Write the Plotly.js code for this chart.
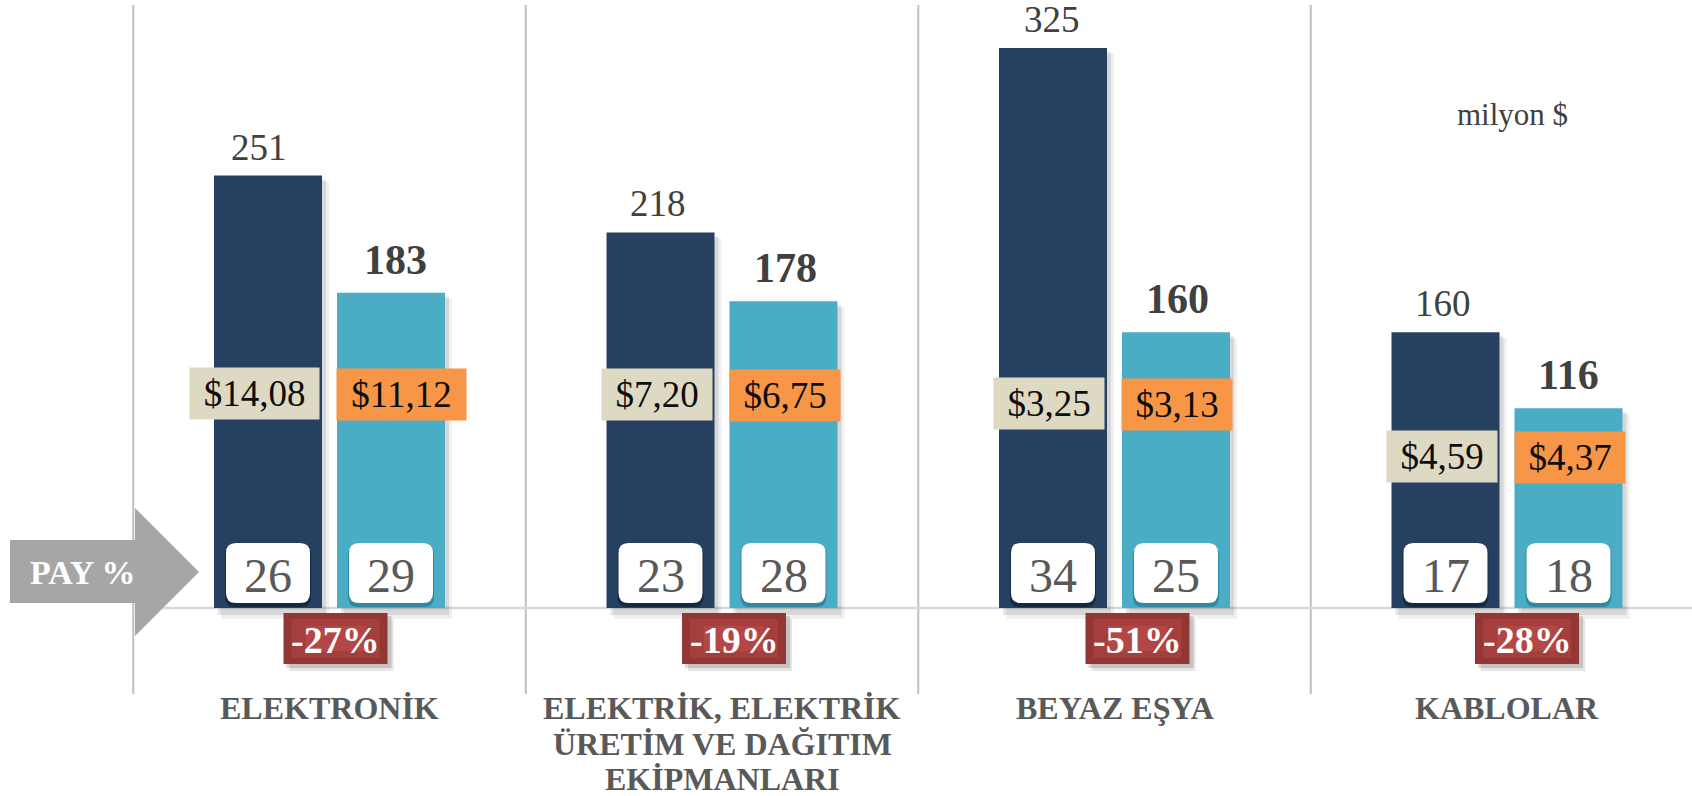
<!DOCTYPE html>
<html>
<head>
<meta charset="utf-8">
<script src="https://cdn.plot.ly/plotly-3.0.1.min.js"></script>
<style>
  html, body { margin: 0; padding: 0; background: #ffffff; }
  #chart { width: 1692px; height: 796px; }
</style>
</head>
<body>
<div id="chart"></div>
<script>
// ---------------- DATA ----------------
const categories = ['ELEKTRONİK', 'ELEKTRİK, ELEKTRİK ÜRETİM VE DAĞITIM EKİPMANLARI', 'BEYAZ EŞYA', 'KABLOLAR'];
const categoryLines = [
  ['ELEKTRONİK'],
  ['ELEKTRİK, ELEKTRİK', 'ÜRETİM VE DAĞITIM', 'EKİPMANLARI'],
  ['BEYAZ EŞYA'],
  ['KABLOLAR']
];
const valuesPrev = [251, 218, 325, 160];   // dark bars (milyon $)
const valuesCurr = [183, 178, 160, 116];   // light bars (milyon $)
const unitPricePrev = ['$14,08', '$7,20', '$3,25', '$4,59'];
const unitPriceCurr = ['$11,12', '$6,75', '$3,13', '$4,37'];
const sharePrev = [26, 23, 34, 17];        // PAY %
const shareCurr = [29, 28, 25, 18];
const changeLabels = ['-27%', '-19%', '-51%', '-28%'];
const unitLabel = 'milyon $';
const payLabel = 'PAY %';

// ---------------- GEOMETRY / STYLE ----------------
const W = 1692, H = 796;
const baselinePx = 608;
const pxPerUnit = 1.723;
const yMax = baselinePx / pxPerUnit;
const yMin = -(H - baselinePx) / pxPerUnit;
const groupCenter0 = 329.5, groupStep = 392.5;
const xMin = -groupCenter0 / groupStep;
const xMax = (W - groupCenter0) / groupStep;
const barPx = 108;
const darkOffPx = -115.5, lightOffPx = 7.5;
const barW = barPx / groupStep;

const DARK = '#264061', LIGHT = '#4BACC6';
const BEIGE = '#DDD9C3', ORANGE = '#F79646';
const SERIF = '"Liberation Serif", "Times New Roman", serif';

const PX = px => px / W;            // pixel -> paper x
const PY = py => 1 - py / H;        // pixel -> paper y
const gc = i => groupCenter0 + i * groupStep;
const barLeftPx = (i, k) => gc(i) + (k === 0 ? darkOffPx : lightOffPx);
const barCenterPx = (i, k) => barLeftPx(i, k) + barPx / 2;

// layout placement lists (pixels)
const priceBoxCenterY = [393, 394, 403, 456.5];
const changeBoxShift = [6, 12, 23, 20];
const prevLabelShift = [-9, -3, -1, -3];
const currLabelShift = [4, 2, 1, 0];

// ---------------- TRACES ----------------
function shadowTrace(vals, offPx, dx, below, drop, alpha) {
  return {
    type: 'bar', x: categories, y: vals.map(v => v + (below - drop) / pxPerUnit),
    base: -below / pxPerUnit, width: barW, offset: (offPx + dx) / groupStep,
    marker: { color: 'rgba(0,0,0,' + alpha + ')', line: { width: 0 } },
    hoverinfo: 'skip', showlegend: false
  };
}
const traces = [
  shadowTrace(valuesPrev, darkOffPx, 7, 11, 6, 0.06),
  shadowTrace(valuesCurr, lightOffPx, 7, 11, 6, 0.06),
  shadowTrace(valuesPrev, darkOffPx, 4, 7, 4, 0.10),
  shadowTrace(valuesCurr, lightOffPx, 4, 7, 4, 0.10),
  {
    type: 'bar', name: 'prev', x: categories, y: valuesPrev, width: barW,
    offset: darkOffPx / groupStep, marker: { color: DARK, line: { width: 0 } },
    hoverinfo: 'skip', showlegend: false
  },
  {
    type: 'bar', name: 'curr', x: categories, y: valuesCurr, width: barW,
    offset: lightOffPx / groupStep, marker: { color: LIGHT, line: { width: 0 } },
    hoverinfo: 'skip', showlegend: false
  }
];

// ---------------- SHAPES ----------------
function rrect(x0, y0, x1, y1, r) {
  const f = (x, y) => PX(x).toFixed(6) + ',' + PY(y).toFixed(6);
  return 'M' + f(x0 + r, y0) + ' L' + f(x1 - r, y0) + ' Q' + f(x1, y0) + ' ' + f(x1, y0 + r) +
    ' L' + f(x1, y1 - r) + ' Q' + f(x1, y1) + ' ' + f(x1 - r, y1) +
    ' L' + f(x0 + r, y1) + ' Q' + f(x0, y1) + ' ' + f(x0, y1 - r) +
    ' L' + f(x0, y0 + r) + ' Q' + f(x0, y0) + ' ' + f(x0 + r, y0) + ' Z';
}
function prect(x0, y0, x1, y1, color, layer, opacity) {
  return { type: 'rect', xref: 'paper', yref: 'paper', x0: PX(x0), x1: PX(x1), y0: PY(y1), y1: PY(y0),
    fillcolor: color, line: { width: 0 }, layer: layer || 'above', opacity: opacity == null ? 1 : opacity };
}
const shapes = [];
// vertical separators
categories.forEach((c, i) => {
  const x = gc(i) - groupStep / 2;
  shapes.push({ type: 'line', xref: 'paper', yref: 'paper', x0: PX(x), x1: PX(x), y0: PY(5), y1: PY(694),
    line: { color: '#BFBFBF', width: 2 }, layer: 'below' });
});
// baseline
shapes.push({ type: 'line', xref: 'paper', yref: 'y', x0: PX(gc(0) - groupStep / 2), x1: 1, y0: 0, y1: 0,
  line: { color: '#D9D9D9', width: 2.5 }, layer: 'below' });

// PAY % arrow
shapes.push({ type: 'path', xref: 'paper', yref: 'paper', layer: 'above',
  path: 'M' + PX(10) + ',' + PY(540) + ' L' + PX(135) + ',' + PY(540) + ' L' + PX(135) + ',' + PY(508) +
    ' L' + PX(199) + ',' + PY(572) + ' L' + PX(135) + ',' + PY(636) + ' L' + PX(135) + ',' + PY(603) +
    ' L' + PX(10) + ',' + PY(603) + ' Z',
  fillcolor: '#A6A6A6', line: { width: 0 } });

// PAY boxes (white rounded)
const payBoxW = 84, payBoxTop = 543, payBoxBot = 603;
categories.forEach((c, i) => {
  [0, 1].forEach(k => {
    const cx = barCenterPx(i, k);
    const shade = k === 0 ? '#14263d' : '#2a8198';
    shapes.push({ type: 'path', xref: 'paper', yref: 'paper', layer: 'above',
      path: rrect(cx - payBoxW / 2 - 1, payBoxTop + 2, cx + payBoxW / 2 + 1, payBoxBot + 4, 10),
      fillcolor: shade, opacity: 0.85, line: { width: 0 } });
    shapes.push({ type: 'path', xref: 'paper', yref: 'paper', layer: 'above',
      path: rrect(cx - payBoxW / 2, payBoxTop, cx + payBoxW / 2, payBoxBot, 10),
      fillcolor: '#FFFFFF', line: { width: 0 } });
  });
});

// change (red) boxes
const chW = 104, chTop = 613, chBot = 664;
categories.forEach((c, i) => {
  const cx = gc(i) + changeBoxShift[i];
  shapes.push(prect(cx - chW / 2 + 6, chTop + 6, cx + chW / 2 + 6, chBot + 7, 'rgba(0,0,0,0.10)'));
  shapes.push(prect(cx - chW / 2 + 3, chTop + 3, cx + chW / 2 + 4, chBot + 4, 'rgba(0,0,0,0.15)'));
  shapes.push(prect(cx - chW / 2, chTop, cx + chW / 2, chBot, '#943634'));
  shapes.push(prect(cx - chW / 2 + 8, chTop + 6, cx + chW / 2 - 8, chBot - 6, '#A5403E', 'above', 0.9));
  shapes.push(prect(cx - chW / 2 + 22, chTop + 13, cx + chW / 2 - 22, chBot - 13, '#B84B48', 'above', 0.7));
});

// ---------------- ANNOTATIONS ----------------
const annotations = [];
// value labels above bars (data coordinates)
categories.forEach((c, i) => {
  annotations.push({ xref: 'x', yref: 'y', x: i + (darkOffPx + barPx / 2) / groupStep, y: valuesPrev[i],
    text: String(valuesPrev[i]), showarrow: false, xanchor: 'center', yanchor: 'bottom', yshift: 6,
    xshift: prevLabelShift[i],
    font: { family: SERIF, size: 37, color: '#404040' } });
  annotations.push({ xref: 'x', yref: 'y', x: i + (lightOffPx + barPx / 2) / groupStep, y: valuesCurr[i],
    text: '<b>' + valuesCurr[i] + '</b>', showarrow: false, xanchor: 'center', yanchor: 'bottom', yshift: 8,
    xshift: currLabelShift[i],
    font: { family: SERIF, size: 42, color: '#404040' } });
});
// unit price boxes
categories.forEach((c, i) => {
  const wP = 15 + 19 * unitPricePrev[i].length;
  const wC = 15 + 19 * unitPriceCurr[i].length;
  const cxP = barLeftPx(i, 0) + barPx - 3 - wP / 2;
  const cxC = barLeftPx(i, 1) + wC / 2;
  const cy = priceBoxCenterY[i];
  annotations.push({ xref: 'paper', yref: 'paper', x: PX(cxP), y: PY(cy), xanchor: 'center', yanchor: 'middle',
    width: wP, height: 51, borderpad: 0, bgcolor: BEIGE, showarrow: false, text: unitPricePrev[i],
    font: { family: SERIF, size: 37, color: '#0D0D0D' } });
  annotations.push({ xref: 'paper', yref: 'paper', x: PX(cxC), y: PY(cy + 1), xanchor: 'center', yanchor: 'middle',
    width: wC, height: 51, borderpad: 0, bgcolor: ORANGE, showarrow: false, text: unitPriceCurr[i],
    font: { family: SERIF, size: 37, color: '#0D0D0D' } });
});
// PAY numbers
categories.forEach((c, i) => {
  [[sharePrev, 0], [shareCurr, 1]].forEach(([arr, k]) => {
    annotations.push({ xref: 'paper', yref: 'paper', x: PX(barCenterPx(i, k)), y: PY((payBoxTop + payBoxBot) / 2 + 2),
      xanchor: 'center', yanchor: 'middle', showarrow: false, text: String(arr[i]),
      font: { family: SERIF, size: 48, color: '#595959' } });
  });
});
// change labels
categories.forEach((c, i) => {
  annotations.push({ xref: 'paper', yref: 'paper', x: PX(gc(i) + changeBoxShift[i]), y: PY((chTop + chBot) / 2 + 1),
    xanchor: 'center', yanchor: 'middle', showarrow: false, text: '<b>' + changeLabels[i] + '</b>',
    font: { family: SERIF, size: 38, color: '#FFFFFF' } });
});
// category labels
categoryLines.forEach((lines, i) => {
  lines.forEach((t, j) => {
    annotations.push({ xref: 'paper', yref: 'paper', x: PX(gc(i)), y: PY(708 + j * 35.5),
      xanchor: 'center', yanchor: 'middle', showarrow: false, text: '<b>' + t + '</b>',
      font: { family: SERIF, size: 32, color: '#595959' } });
  });
});
// unit label
annotations.push({ xref: 'paper', yref: 'paper', x: PX(1512), y: PY(115), xanchor: 'center', yanchor: 'middle',
  showarrow: false, text: unitLabel, font: { family: SERIF, size: 31, color: '#404040' } });
// PAY % label
annotations.push({ xref: 'paper', yref: 'paper', x: PX(82), y: PY(572), xanchor: 'center', yanchor: 'middle',
  showarrow: false, text: '<b>' + payLabel + '</b>', font: { family: SERIF, size: 34, color: '#FFFFFF' } });

// ---------------- LAYOUT ----------------
const layout = {
  width: W, height: H,
  margin: { l: 0, r: 0, t: 0, b: 0, pad: 0 },
  paper_bgcolor: '#FFFFFF', plot_bgcolor: '#FFFFFF',
  barmode: 'overlay', showlegend: false, hovermode: false,
  xaxis: { type: 'category', categoryorder: 'array', categoryarray: categories, range: [xMin, xMax],
    showgrid: false, zeroline: false, showline: false, showticklabels: false, ticks: '', fixedrange: true },
  yaxis: { range: [yMin, yMax], showgrid: false, zeroline: false, showline: false, showticklabels: false,
    ticks: '', fixedrange: true },
  shapes: shapes,
  annotations: annotations
};

Plotly.newPlot('chart', traces, layout, { displayModeBar: false, staticPlot: true });
</script>
</body>
</html>
